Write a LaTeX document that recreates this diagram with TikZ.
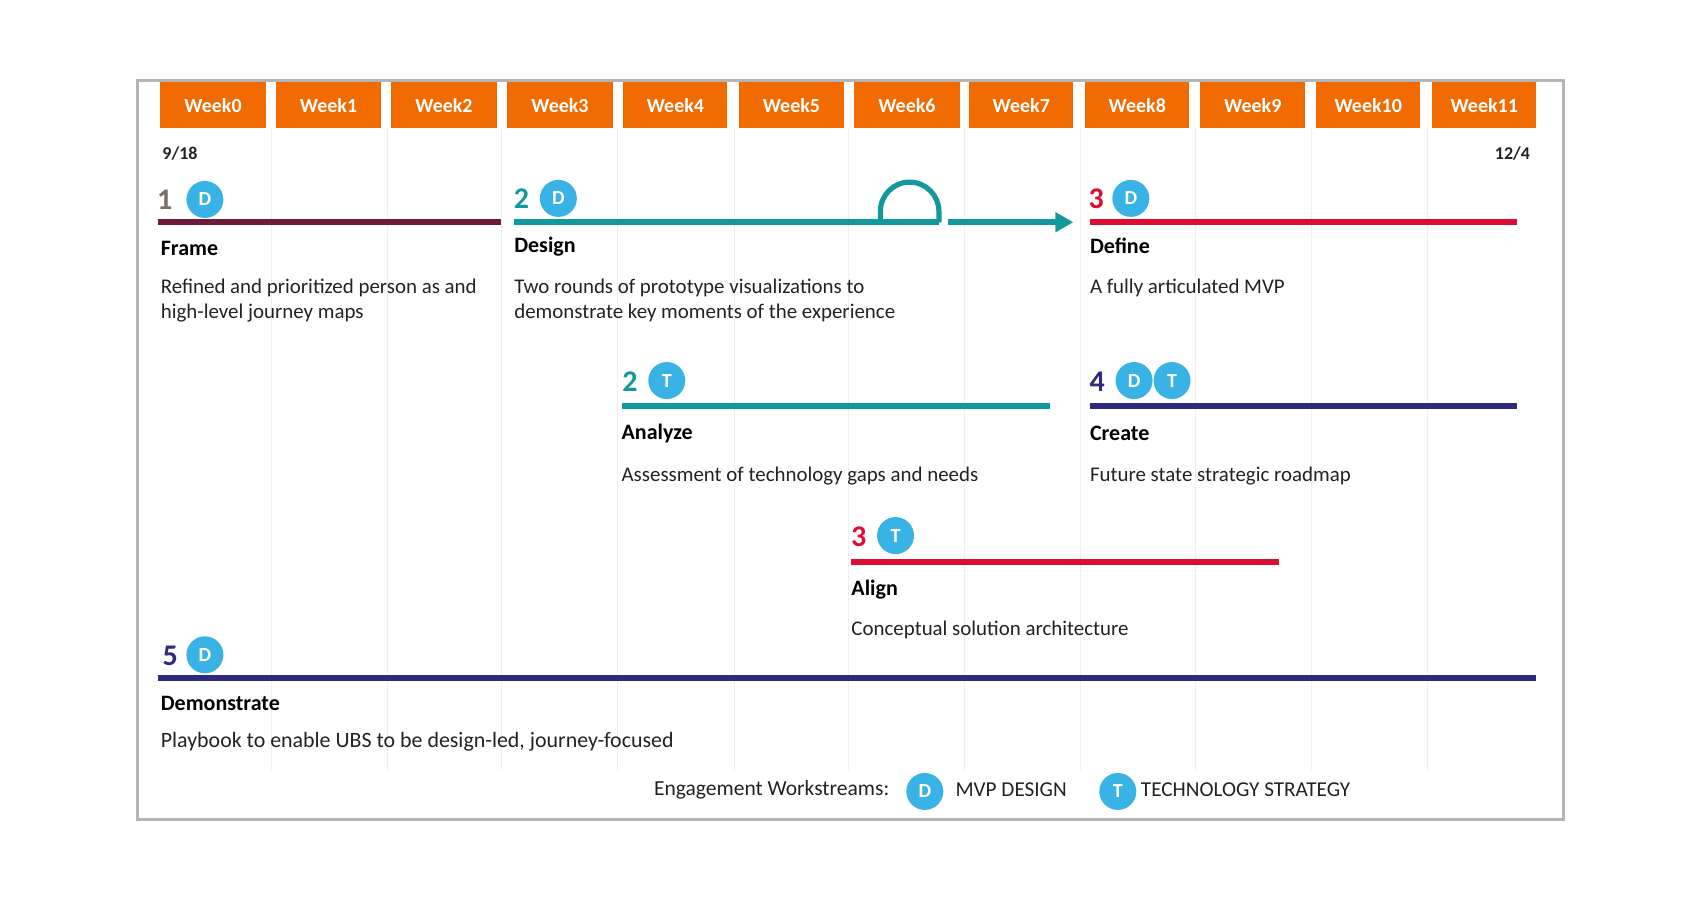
\documentclass[tikz,border=0pt]{standalone}
\usepackage{fontspec}
\setmainfont{Carlito}
\usetikzlibrary{arrows.meta}
\definecolor{wkorange}{HTML}{F26B00}
\definecolor{badge}{HTML}{39B3E6}
\definecolor{teal1}{HTML}{11999E}
\definecolor{wine}{HTML}{6E1A3A}
\definecolor{crim}{HTML}{DC0F32}
\definecolor{navy}{HTML}{2E2A80}
\definecolor{gridc}{HTML}{EFEFEF}
\definecolor{framec}{HTML}{B5B5B5}
\definecolor{txt}{HTML}{222222}
\definecolor{numgray}{HTML}{7A7068}
\tikzset{
  x=0.54209pt,y=-0.54209pt,
  week/.style={fill=wkorange,draw=none,minimum height=22.8pt,inner sep=0pt,text=white,font=\fontsize{10}{11}\selectfont\bfseries},
  bdg/.style={circle,fill=badge,draw=none,minimum size=18.5pt,inner sep=0pt,text=white,font=\fontsize{10}{12}\selectfont\bfseries},
  num/.style={inner sep=0pt,font=\fontsize{15}{18}\selectfont\bfseries},
  bar/.style={line width=2.9pt},
  head/.style={anchor=west,inner sep=0pt,text=black,font=\fontsize{11}{12}\selectfont\bfseries},
  body/.style={anchor=north west,inner sep=0pt,align=left,text=txt,font=\fontsize{10.45}{12.5}\selectfont},
  leg/.style={anchor=west,inner sep=0pt,text=txt,font=\fontsize{10.6}{12}\selectfont},
  gridl/.style={draw=gridc,line width=0.5pt},
}
\begin{document}
\begin{tikzpicture}
\useasboundingbox (0,0) rectangle (1568,830.1);
\draw[framec,line width=1.4pt] (127,74) rectangle (1442,756);
% grid
\foreach \gx in {250,357,463,570,677,783,890,997,1103,1210,1317}
  \draw[gridl] (\gx,118) -- (\gx,710);
% weeks
\foreach \wl/\wr/\wn in {148/245/0,255/351/1,361/458/2,468/565/3,575/671/4,682/778/5,788/885/6,894/990/7,1001/1097/8,1107/1204/9,1214/1310/10,1321/1417/11}{
  \pgfmathsetmacro{\wmid}{(\wl+\wr)/2}
  \pgfmathsetmacro{\wwid}{(\wr-\wl)*0.54209}
  \node[week,minimum width=\wwid pt] (w\wn) at (\wmid,97) {Week\wn};
}
\node[inner sep=0pt,font=\fontsize{9}{11}\selectfont\bfseries,text=txt] (d1) at (166,141.5) {9/18};
\node[inner sep=0pt,font=\fontsize{9}{11}\selectfont\bfseries,text=txt] (d2) at (1395,141.5) {12/4};
% Frame
\node[num,text=numgray] (n1) at (152,184) {1};
\node[bdg] (b1) at (189,184) {D};
\coordinate (f1) at (146,205); \coordinate (f2) at (462,205);
\draw[bar,wine] (f1) -- (f2);
\node[head] (h1) at (148,229) {Frame};
\node[body] (t1) at (148,257) {Refined and prioritized person as and\\high-level journey maps};
% Design
\node[num,text=teal1] (n2) at (481,183.5) {2};
\node[bdg] (b2) at (515,183) {D};
\coordinate (g1) at (474,205); \coordinate (g2) at (866,205);
\coordinate (g3) at (874,205); \coordinate (g4) at (990,205);
\coordinate (la) at (812,205); \coordinate (lb) at (866,205);
\draw[bar,teal1] (g1) -- (g2);
\draw[teal1,line width=2.6pt] (la) -- ++(0,-10) arc[start angle=180,end angle=360,radius=27] -- (lb);
\draw[bar,teal1,-{Triangle[length=9pt,width=9.5pt]}] (g3) -- (g4);
\node[head] (h2) at (474,227.5) {Design};
\node[body] (t2) at (474,257) {Two rounds of prototype visualizations to\\demonstrate key moments of the experience};
% Define
\node[num,text=crim] (n3) at (1011,183.5) {3};
\node[bdg] (b3) at (1043,183) {D};
\coordinate (e1) at (1005,205); \coordinate (e2) at (1399,205);
\draw[bar,crim] (e1) -- (e2);
\node[head] (h3) at (1005,227) {Define};
\node[body] (t3) at (1005,257) {A fully articulated MVP};
% Analyze
\node[num,text=teal1] (n4) at (581,352) {2};
\node[bdg] (b4) at (615,351) {T};
\coordinate (a1) at (574,374.5); \coordinate (a2) at (968,374.5);
\draw[bar,teal1] (a1) -- (a2);
\node[head] (h4) at (573,400) {Analyze};
\node[body] (t4) at (573,430) {Assessment of technology gaps and needs};
% Create
\node[num,text=navy] (n5) at (1012,352) {4};
\node[bdg] (b5) at (1046,351) {D};
\node[bdg] (b6) at (1081,351) {T};
\coordinate (c1) at (1005,374.5); \coordinate (c2) at (1399,374.5);
\draw[bar,navy] (c1) -- (c2);
\node[head] (h5) at (1005,400) {Create};
\node[body] (t5) at (1005,430) {Future state strategic roadmap};
% Align
\node[num,text=crim] (n6) at (792,495) {3};
\node[bdg] (b7) at (826,494) {T};
\coordinate (l1) at (785,518); \coordinate (l2) at (1180,518);
\draw[bar,crim] (l1) -- (l2);
\node[head] (h6) at (785,543.5) {Align};
\node[body] (t6) at (785,572) {Conceptual solution architecture};
% Demonstrate
\node[num,text=navy] (n7) at (157,604.5) {5};
\node[bdg] (b8) at (189,604) {D};
\coordinate (m1) at (146,625); \coordinate (m2) at (1417,625);
\draw[bar,navy] (m1) -- (m2);
\node[head] (h7) at (148,649) {Demonstrate};
\node[body,font=\fontsize{10.95}{12.5}\selectfont] (t7) at (148,675.5) {Playbook to enable UBS to be design-led, journey-focused};
% Legend
\node[leg,font=\fontsize{10.75}{12}\selectfont] (lg) at (603,728.5) {Engagement Workstreams:};
\node[bdg] (lg1) at (853,730) {D};
\node[leg] (lg2) at (881,728) {MVP DESIGN};
\node[bdg] (lg3) at (1031,730) {T};
\node[leg] (lg4) at (1052,728) {TECHNOLOGY STRATEGY};
\end{tikzpicture}
\end{document}
